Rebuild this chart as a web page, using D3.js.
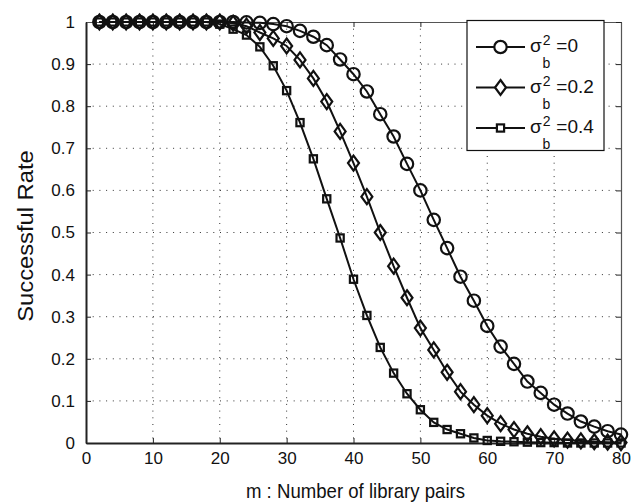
<!DOCTYPE html>
<html>
<head>
<meta charset="utf-8">
<script src="https://cdn.jsdelivr.net/npm/d3@7"></script>
<style>
    body { margin: 0; background: #fff; }
    text { font-family: "Liberation Sans", Arial, sans-serif; fill: #111; }
</style>
</head>
<body>
<script>
(function(){

    //number of library pairs (x values)
    var mValues = [2, 4, 6, 8, 10, 12, 14, 16, 18, 20, 22, 24, 26, 28, 30, 32, 34, 36, 38, 40,
                   42, 44, 46, 48, 50, 52, 54, 56, 58, 60, 62, 64, 66, 68, 70, 72, 74, 76, 78, 80];

    //successful rate, sigma_b^2 = 0
    var rate0 = [1, 1, 1, 1, 1, 1, 1, 1, 1, 1, 1, 0.999, 0.998, 0.995, 0.99, 0.979, 0.965, 0.945, 0.911, 0.876,
                 0.835, 0.781, 0.728, 0.663, 0.60, 0.53, 0.463, 0.395, 0.338, 0.278, 0.229, 0.188, 0.146, 0.119, 0.091, 0.07, 0.051, 0.039, 0.028, 0.02];

    //successful rate, sigma_b^2 = 0.2
    var rate02 = [1, 1, 1, 1, 1, 1, 1, 1, 1, 1, 0.997, 0.99, 0.975, 0.961, 0.943, 0.91, 0.866, 0.811, 0.74, 0.665,
                  0.585, 0.50, 0.42, 0.345, 0.273, 0.221, 0.168, 0.122, 0.091, 0.065, 0.046, 0.032, 0.022, 0.015, 0.01, 0.007, 0.005, 0.003, 0.002, 0.001];

    //successful rate, sigma_b^2 = 0.4
    var rate04 = [1, 1, 1, 1, 1, 1, 1, 1, 1, 0.995, 0.983, 0.969, 0.941, 0.896, 0.837, 0.761, 0.675, 0.58, 0.487, 0.389,
                  0.303, 0.227, 0.166, 0.117, 0.079, 0.049, 0.032, 0.022, 0.012, 0.006, 0.004, 0.003, 0.002, 0.001, 0.001, 0, 0, 0, 0, 0];

    var seriesNames = ["0", "0.2", "0.4"];
    var seriesMarkers = ["circle", "diamond", "square"];
    var xTicks = [0, 10, 20, 30, 40, 50, 60, 70, 80];
    var yTicks = [0, 0.1, 0.2, 0.3, 0.4, 0.5, 0.6, 0.7, 0.8, 0.9, 1];

    //frame
    var width = 637,
        height = 503,
        margin = {left: 86, right: 16, top: 22, bottom: 60};
    var plotW = width - margin.left - margin.right,
        plotH = height - margin.top - margin.bottom;

    var svg = d3.select("body")
        .append("svg")
        .attr("width", width)
        .attr("height", height);

    var g = svg.append("g")
        .attr("transform", "translate(" + margin.left + "," + margin.top + ")");

    var x = d3.scaleLinear().domain([0, 80]).range([0, plotW]);
    var y = d3.scaleLinear().domain([0, 1]).range([plotH, 0]);

    //dotted grid
    g.selectAll(".vgrid")
        .data(xTicks.slice(1, -1))
        .enter()
        .append("line")
        .attr("x1", function(d){ return x(d); })
        .attr("x2", function(d){ return x(d); })
        .attr("y1", 0)
        .attr("y2", plotH)
        .attr("stroke", "#333")
        .attr("stroke-width", 1)
        .attr("stroke-dasharray", "1,5.7");

    g.selectAll(".hgrid")
        .data(yTicks.slice(1, -1))
        .enter()
        .append("line")
        .attr("x1", 0)
        .attr("x2", plotW)
        .attr("y1", function(d){ return y(d); })
        .attr("y2", function(d){ return y(d); })
        .attr("stroke", "#333")
        .attr("stroke-width", 1)
        .attr("stroke-dasharray", "1,5.7");

    //axes with inward ticks (all four sides)
    var fmt = function(d){ return d3.format("")(+d.toFixed(1)); };

    var xAxis = g.append("g")
        .attr("transform", "translate(0," + plotH + ")")
        .call(d3.axisBottom(x).tickValues(xTicks).tickSizeInner(-5).tickSizeOuter(0).tickPadding(9));
    var yAxis = g.append("g")
        .call(d3.axisLeft(y).tickValues(yTicks).tickFormat(fmt).tickSizeInner(-5).tickSizeOuter(0).tickPadding(11));
    var xTop = g.append("g")
        .call(d3.axisTop(x).tickValues(xTicks).tickFormat("").tickSizeInner(-5).tickSizeOuter(0));
    var yRight = g.append("g")
        .attr("transform", "translate(" + plotW + ",0)")
        .call(d3.axisRight(y).tickValues(yTicks).tickFormat("").tickSizeInner(-5).tickSizeOuter(0));

    [xAxis, yAxis, xTop, yRight].forEach(function(a){
        a.selectAll("path").attr("stroke", "#222").attr("stroke-width", 1.2);
        a.selectAll("line").attr("stroke", "#222");
        a.selectAll("text").style("font-size", "17px").attr("fill", "#111");
    });
    xTop.select("path").attr("stroke", "#555");
    yRight.select("path").attr("stroke", "#555");
    xAxis.select("path").attr("stroke-width", 2);
    yAxis.select("path").attr("stroke-width", 2);

    //axis titles
    svg.append("text")
        .attr("transform", "translate(" + (margin.left + plotW / 2 + 2) + ",498) scale(1,1.1)")
        .attr("text-anchor", "middle")
        .style("font-size", "18.6px")
        .text("m : Number of library pairs");

    svg.append("text")
        .attr("transform", "translate(33,236) rotate(-90) scale(1.08,1)")
        .attr("text-anchor", "middle")
        .style("font-size", "22px")
        .text("Successful Rate");

    //marker drawing
    function drawMarker(sel, type){
        if (type == "circle"){
            sel.append("circle").attr("r", 6.2);
        } else if (type == "diamond"){
            sel.append("path").attr("d", "M0,-7.5L5.5,0L0,7.5L-5.5,0Z");
        } else {
            sel.append("rect").attr("x", -3.6).attr("y", -3.6).attr("width", 7.2).attr("height", 7.2);
        };
        sel.selectAll("circle, path, rect")
            .attr("fill", "none")
            .attr("stroke", "#111")
            .attr("stroke-width", 2.2);
    };

    var allRates = [rate0, rate02, rate04];
    var line = d3.line()
        .x(function(d){ return x(d[0]); })
        .y(function(d){ return y(d[1]); });

    allRates.forEach(function(rates, s){
        var pts = mValues.map(function(m, i){ return [m, rates[i]]; });

        g.append("path")
            .datum(pts)
            .attr("fill", "none")
            .attr("stroke", "#111")
            .attr("stroke-width", 2)
            .attr("d", line);

        g.selectAll(".mk" + s)
            .data(pts)
            .enter()
            .append("g")
            .attr("transform", function(d){ return "translate(" + x(d[0]) + "," + y(d[1]) + ")"; })
            .each(function(){ drawMarker(d3.select(this), seriesMarkers[s]); });
    });

    //legend
    var leg = svg.append("g")
        .attr("transform", "translate(467,20.5)");
    leg.append("rect")
        .attr("width", 137)
        .attr("height", 130)
        .attr("fill", "#fff")
        .attr("stroke", "#111")
        .attr("stroke-width", 1.2);

    seriesNames.forEach(function(name, s){
        var ry = 26.5 + s * 40.5;
        leg.append("line")
            .attr("x1", 9).attr("x2", 58)
            .attr("y1", ry).attr("y2", ry)
            .attr("stroke", "#111")
            .attr("stroke-width", 2);
        var mk = leg.append("g").attr("transform", "translate(33.5," + ry + ")");
        drawMarker(mk, seriesMarkers[s]);
        mk.selectAll("circle, path, rect").attr("fill", "#fff");

        var t = leg.append("text")
            .attr("x", 63)
            .attr("y", ry + 5)
            .style("font-size", "19px");
        t.append("tspan").text("σ");
        t.append("tspan").attr("dx", 1).attr("dy", -7).style("font-size", "14px").text("2");
        t.append("tspan").attr("dx", -8).attr("dy", 23).style("font-size", "14px").text("b");
        t.append("tspan").attr("dx", 6).attr("dy", -16).text("=" + name);
    });

})();
</script>
</body>
</html>
